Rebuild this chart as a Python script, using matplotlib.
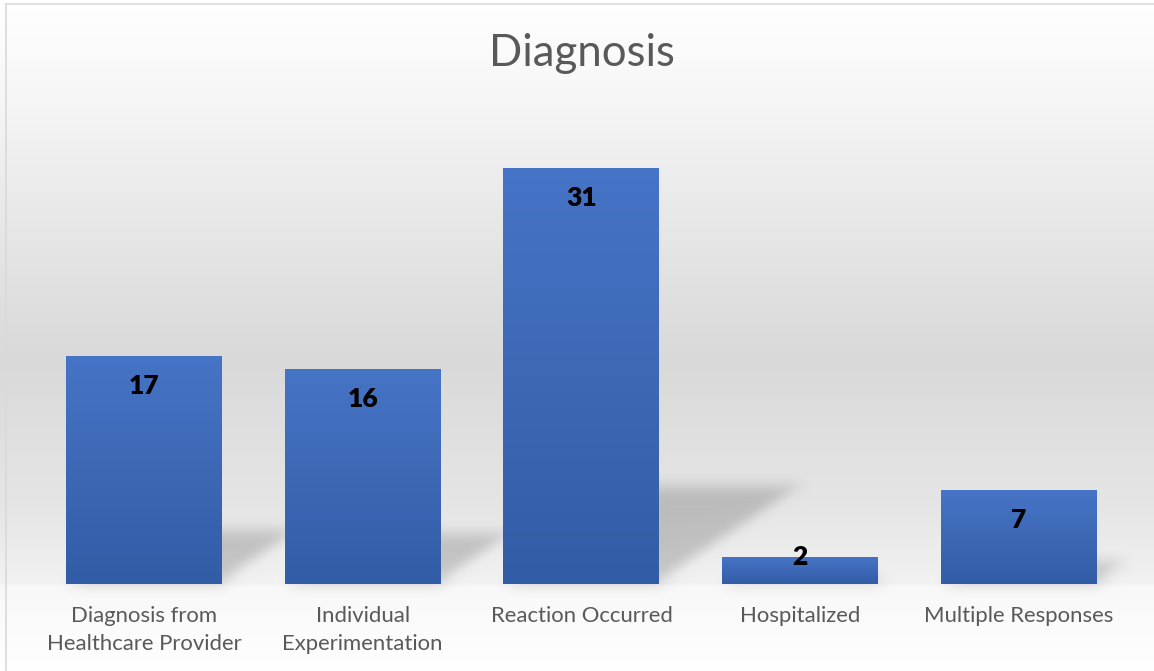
import numpy as np
import matplotlib
matplotlib.use("Agg")
import matplotlib.pyplot as plt
from matplotlib.patches import Polygon
from matplotlib.lines import Line2D
from matplotlib.colors import to_rgb

# ---------------- data ----------------
categories = ["Diagnosis from\nHealthcare Provider", "Individual\nExperimentation",
              "Reaction Occurred", "Hospitalized", "Multiple Responses"]
values = [17, 16, 31, 2, 7]
title = "Diagnosis"

W, H, DPI = 1154, 671, 100
FONT = ["Lato", "DejaVu Sans"]

fig = plt.figure(figsize=(W / DPI, H / DPI), dpi=DPI)

# ---------------- chart-area gradient background ----------------
stops = [(0, "#ffffff"), (80, "#f8f8f8"), (190, "#ebebeb"), (360, "#d9d9d9"),
         (510, "#e6e6e6"), (583, "#f2f2f2"), (586, "#f8f8f8"), (671, "#ffffff")]
ys = np.arange(H)
sp = np.array([s[0] for s in stops], float)
cols = np.array([to_rgb(s[1]) for s in stops])
grad = np.stack([np.interp(ys, sp, cols[:, i]) for i in range(3)], axis=-1)[:, None, :]
bg = fig.add_axes([0, 0, 1, 1], zorder=-10)
bg.imshow(grad, aspect="auto", extent=[0, 1, 0, 1], interpolation="bilinear")
bg.set_xlim(0, 1); bg.set_ylim(0, 1); bg.axis("off")

# border lines (top and left visible)
fig.add_artist(Line2D([5.5 / W, 5.5 / W], [0, 1 - 4 / H], transform=fig.transFigure,
                      color="#d9d9d9", lw=1.2))
fig.add_artist(Line2D([5.5 / W, 1], [1 - 4 / H, 1 - 4 / H], transform=fig.transFigure,
                      color="#d9d9d9", lw=1.2))

# ---------------- main axes ----------------
ymax = 35
px_per_unit = 13.42
ax_left, ax_w = 34.6, 1093.75
ax_bottom = H - 584
ax_h = ymax * px_per_unit
ax = fig.add_axes([ax_left / W, ax_bottom / H, ax_w / W, ax_h / H])
ax.patch.set_alpha(0)
x = np.arange(len(values))
bw = 0.713


def gauss_blur(im, dpi, sigma=7):
    pad = int(3 * sigma)
    r = pad
    k = np.exp(-0.5 * (np.arange(-r, r + 1) / sigma) ** 2)
    k /= k.sum()
    a = np.pad(im, ((pad, pad), (pad, pad), (0, 0)))
    out = np.zeros_like(a)
    for i, w in enumerate(k):
        out += w * np.roll(a, i - r, axis=0)
    out2 = np.zeros_like(a)
    for i, w in enumerate(k):
        out2 += w * np.roll(out, i - r, axis=1)
    return out2, -pad, -pad


# perspective shadows (derived from bar geometry)
k_h = 0.235
x_shift_per_unit = 0.35 * px_per_unit / (ax_w / len(values))
for xi, v in zip(x, values):
    x0, x1 = xi - bw / 2, xi + bw / 2
    dx = x_shift_per_unit * v
    poly = Polygon([(x0, 0), (x1, 0), (x1 + dx, k_h * v), (x0 + dx, k_h * v)],
                   closed=True, facecolor="black", edgecolor="none", alpha=0.18,
                   zorder=1)
    poly.set_agg_filter(gauss_blur)
    ax.add_patch(poly)

bars = ax.bar(x, values, width=bw, color="#4472c4", zorder=2, linewidth=0)

# gradient fill for each bar
top_c = np.array(to_rgb("#4674c6"))
bot_c = np.array(to_rgb("#335ca6"))
t = np.linspace(0, 1, 256)[:, None]
bar_grad = (top_c * (1 - t) + bot_c * t)[:, None, :]
for b in bars:
    bx, by = b.get_x(), b.get_y()
    im = ax.imshow(bar_grad, extent=[bx, bx + b.get_width(), by, by + b.get_height()],
                   aspect="auto", zorder=3, interpolation="bilinear")
    im.set_clip_path(b)

# data labels (inside end)
off = 30 / px_per_unit
for xi, v in zip(x, values):
    ly = v - off if v > 2 * off else v
    ax.text(xi, ly, str(v), ha="center", va="center", fontsize=19, fontweight="heavy",
            color="black", family=FONT, zorder=5)

ax.set_xlim(-0.5, len(values) - 0.5)
ax.set_ylim(0, ymax)
ax.set_xticks(x)
ax.set_xticklabels(categories, fontsize=15.9, color="#595959", family=FONT,
                   linespacing=1.47)
ax.tick_params(axis="x", length=0, pad=16)
ax.set_yticks([])
for s in ax.spines.values():
    s.set_visible(False)

fig.text(0.5043, 1 - 54 / H, title, ha="center", va="center", fontsize=31.5,
         color="#595959", family=FONT, fontweight="normal")

fig.savefig("out.png", dpi=DPI)
